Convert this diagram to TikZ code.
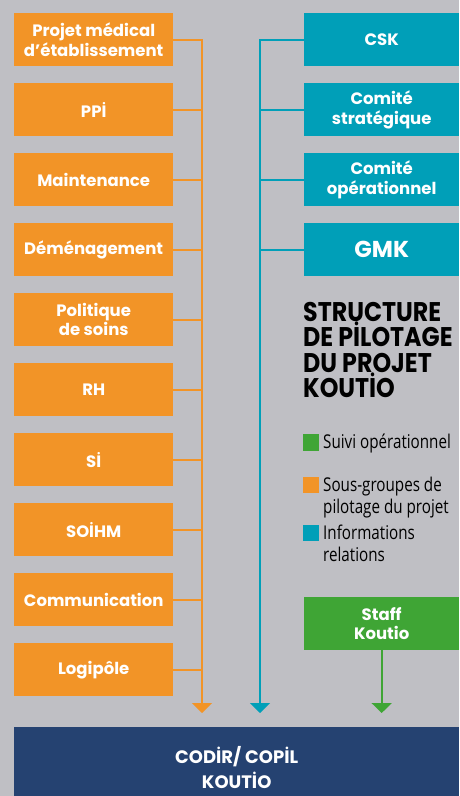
\documentclass[tikz,border=0pt]{standalone}
\usepackage{fontspec}
\usetikzlibrary{arrows.meta}
\setmainfont{Poppins}
\newfontfamily\titlefont[FakeStretch=0.88]{Poppins}
\newfontfamily\legendfont[FakeStretch=0.8]{Open Sans}
\definecolor{kobg}{RGB}{191,191,196}
\definecolor{koorange}{RGB}{242,148,39}
\definecolor{koteal}{RGB}{0,159,184}
\definecolor{kogreen}{RGB}{63,165,53}
\definecolor{konavy}{RGB}{37,66,113}
\newcommand*{\boxw }{159pt}
\newcommand*{\rboxw}{155pt}
\newcommand*{\boxh }{53pt}

\begin{document}
\begin{tikzpicture}[x=1pt, y=-1pt,
    obox/.style={fill=koorange, text=white, minimum width=\boxw, minimum height=\boxh, inner sep=0pt,
                 anchor=north west, align=center, font=\bfseries\fontsize{16.5}{19.5}\selectfont},
    tbox/.style={obox, fill=koteal, minimum width=\rboxw},
    gbox/.style={obox, fill=kogreen, minimum width=\rboxw},
    link/.style={line width=2pt},
    tip/.style={-{Triangle[width=20pt,length=10pt]}},
    legend/.style={anchor=north west, inner sep=0pt, align=left, font=\legendfont\fontsize{19}{22}\selectfont}]
    \useasboundingbox (0,0) rectangle (459,796);
    \fill [kobg] (0,0) rectangle (459,796);
    % sous-groupes
    \node [obox] (pme)   at (14, 13) {Projet médical\\d’établissement};
    \node [obox] (ppi)   at (14, 83) {PPİ};
    \node [obox] (maint) at (14,153) {Maintenance};
    \node [obox] (demen) at (14,223) {Déménagement};
    \node [obox] (soins) at (14,293) {Politique\\de soins};
    \node [obox] (rh)    at (14,363) {RH};
    \node [obox] (si)    at (14,433) {Sİ};
    \node [obox] (soihm) at (14,503) {SOİHM};
    \node [obox] (comm)  at (14,573) {Communication};
    \node [obox] (logi)  at (14,643) {Logipôle};
    % informations
    \node [tbox] (csk)   at (304, 13) {CSK};
    \node [tbox] (cstra) at (304, 83) {Comité\\stratégique};
    \node [tbox] (cope)  at (304,153) {Comité\\opérationnel};
    \node [tbox, font=\bfseries\fontsize{23}{26}\selectfont] (gmk) at (304,223) {GMK};
    % suivi
    \node [gbox] (staff) at (304,597) {Staff\\Koutio};
    \node [fill=konavy, text=white, minimum width=445pt, minimum height=80pt, inner sep=0pt, anchor=north west,
           align=center, font=\bfseries\fontsize{18}{25}\selectfont] (codir) at (14,727) {CODİR/ COPİL\\KOUTİO};
    \coordinate (obot) at (202,713);
    \coordinate (tbot) at (260,713);
    \coordinate (gbot) at (staff.south |- obot);
    \draw [link, koorange, tip] (pme.east) -| (obot);
    \foreach \n in {ppi,maint,demen,soins,rh,si,soihm,comm,logi}
        \draw [link, koorange] (\n.east) -- (\n.east -| obot);
    \draw [link, koteal, tip] (csk.west) -| (tbot);
    \foreach \n in {cstra,cope,gmk}
        \draw [link, koteal] (\n.west) -- (\n.west -| tbot);
    \draw [link, kogreen, tip] (staff.south) -- (gbot);
    % titre et legende
    \node [anchor=north west, inner sep=0pt, align=left, font=\titlefont\bfseries\fontsize{27}{25.5}\selectfont] (titre) at (303,302)
        {STRUCTURE\\DE PİLOTAGE\\DU PROJET\\KOUTİO};
    \fill [kogreen]  (303,434) rectangle (319,451);
    \fill [koorange] (303,477) rectangle (319,493);
    \fill [koteal]   (303,525) rectangle (319,541);
    \node [legend] (lsuivi) at (323,434) {Suivi opérationnel};
    \node [legend] (lsous)  at (323,477) {Sous-groupes de\\pilotage du projet};
    \node [legend] (linfo)  at (323,525) {Informations\\relations};
\end{tikzpicture}
\end{document}
